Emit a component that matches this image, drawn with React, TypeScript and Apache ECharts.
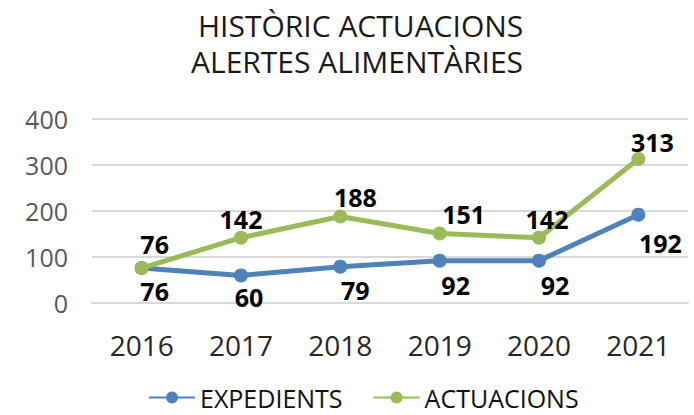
import React, { useEffect, useRef } from "react";
import * as echarts from "echarts";

const years = ["2016", "2017", "2018", "2019", "2020", "2021"];
const expedients = [76, 60, 79, 92, 92, 192];
const actuacions = [76, 142, 188, 151, 142, 313];
const titleLines = ["HISTÒRIC ACTUACIONS", "ALERTES ALIMENTÀRIES"];

// label placement (pixels relative to each point), layout only
const expLabelOffsets = [[13, 23], [8, 22], [15, 23], [16, 24], [16, 24], [22, 28]];
const actLabelOffsets = [[13, -24], [0, -19], [15, -20], [24, -20], [8, -19], [14, -17]];

const FONT = "'Open Sans', 'Noto Sans', sans-serif";

export default function App() {
  const ref = useRef<HTMLDivElement>(null);
  useEffect(() => {
    if (!ref.current) return;
    const chart = echarts.init(ref.current, null, { renderer: "svg" });
    const labelBase = {
      show: true,
      position: "inside",
      fontFamily: FONT,
      fontSize: 25,
      fontWeight: "bold",
      color: "#000",
    };
    chart.setOption({
      animation: false,
      backgroundColor: "#ffffff",
      textStyle: { fontFamily: FONT },
      title: titleLines.map((t, i) => ({
        text: t,
        left: i === 0 ? 198 : 191,
        top: i === 0 ? 10 : 46,
        padding: 0,
        textStyle: { fontFamily: FONT, fontSize: 30, fontWeight: "normal", color: "#1a1a1a", lineHeight: 30 },
      })),
      legend: {
        bottom: 0,
        left: 143,
        itemWidth: 46,
        itemHeight: 15,
        itemGap: 30,
        textStyle: { fontFamily: FONT, fontSize: 25, color: "#111" },
        data: ["EXPEDIENTS", "ACTUACIONS"],
      },
      grid: { left: 92, right: 6, top: 119, bottom: 112 },
      xAxis: {
        type: "category",
        data: years,
        boundaryGap: true,
        axisLine: { show: true, lineStyle: { color: "#d9d9d9", width: 2 } },
        axisTick: { show: false },
        axisLabel: { fontFamily: FONT, fontSize: 28, color: "#262626", margin: 28 },
      },
      yAxis: {
        type: "value",
        min: 0,
        max: 400,
        interval: 100,
        axisLine: { show: false },
        axisTick: { show: false },
        splitLine: { lineStyle: { color: "#d9d9d9", width: 2 } },
        axisLabel: { fontFamily: FONT, fontSize: 25, color: "#595959", margin: 24 },
      },
      series: [
        {
          name: "EXPEDIENTS",
          type: "line",
          data: expedients.map((v, i) => ({ value: v, label: { offset: expLabelOffsets[i] } })),
          color: "#4f81bd",
          lineStyle: { width: 5, color: "#4f81bd" },
          symbol: "circle",
          symbolSize: 14,
          itemStyle: { color: "#4f81bd" },
          label: labelBase,
          z: 2,
        },
        {
          name: "ACTUACIONS",
          type: "line",
          data: actuacions.map((v, i) => ({ value: v, label: { offset: actLabelOffsets[i] } })),
          color: "#9bbb59",
          lineStyle: { width: 5, color: "#9bbb59" },
          symbol: "circle",
          symbolSize: 14,
          itemStyle: { color: "#9bbb59" },
          label: labelBase,
          z: 3,
        },
      ],
    });
    return () => chart.dispose();
  }, []);
  return (
    <div
      ref={ref}
      style={{ position: "fixed", left: 0, top: 0, width: 694, height: 415, background: "#fff" }}
    />
  );
}
